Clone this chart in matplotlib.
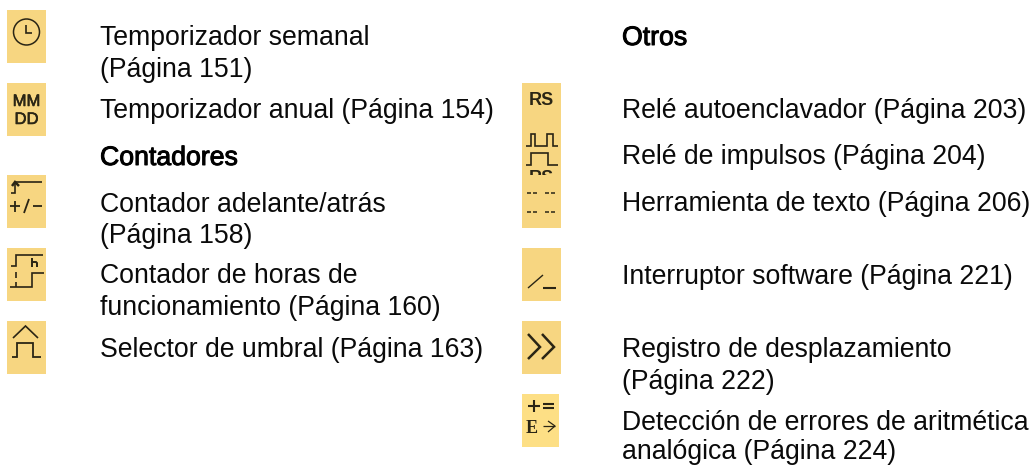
import matplotlib
matplotlib.use("Agg")
import matplotlib.pyplot as plt
from matplotlib.patches import Rectangle
import matplotlib.patheffects as pe

W, H = 1034, 465
plt.rcParams['font.family'] = ['Liberation Sans', 'DejaVu Sans']

left_labels = ["Temporizador semanal", "(Página 151)", "Temporizador anual (Página 154)",
               "Contador adelante/atrás", "(Página 158)", "Contador de horas de",
               "funcionamiento (Página 160)", "Selector de umbral (Página 163)"]
left_rows = [45, 77, 118, 212, 243, 283, 315, 357]
right_labels = ["Relé autoenclavador (Página 203)", "Relé de impulsos (Página 204)",
                "Herramienta de texto (Página 206)", "Interruptor software (Página 221)",
                "Registro de desplazamiento", "(Página 222)",
                "Detección de errores de aritmética", "analógica (Página 224)"]
right_rows = [118, 164, 211, 284, 357, 389, 430, 459]
headers = [("Contadores", 100, 165), ("Otros", 622, 45)]
icon_boxes = [(7, 10, 39, 53), (7, 83, 39, 53), (7, 175, 39, 53), (7, 248, 39, 53), (7, 321, 39, 53),
              (522, 83, 39, 145), (522, 248, 39, 53), (522, 321, 39, 53), (522, 394, 37, 53)]
icon_colors = ["#f7d681"] * 8 + ["#fddf85"]

fig = plt.figure(figsize=(W / 100, H / 100), dpi=100)
ax = fig.add_axes([0, 0, 1, 1])
ax.set_xlim(0, W); ax.set_ylim(H, 0); ax.axis("off")

FS = 19.2
COL = "#0a0a0a"
ICON = "#2a2515"
for (x, y, w, h), c in zip(icon_boxes, icon_colors):
    ax.add_patch(Rectangle((x, y), w, h, fc=c, ec="none"))

for s, y in zip(left_labels, left_rows):
    ax.text(100, y, s, fontsize=FS, color=COL, va="baseline")
for s, y in zip(right_labels, right_rows):
    ax.text(622, y, s, fontsize=FS, color=COL, va="baseline")
for s, x, y in headers:
    t = ax.text(x, y, s, fontsize=FS, color="black", va="baseline")
    t.set_path_effects([pe.withStroke(linewidth=0.7, foreground="black")])

def L(xs, ys, lw=1.2):
    ax.plot(xs, ys, color=ICON, lw=lw, solid_capstyle="butt", solid_joinstyle="miter")

# clock
ax.add_patch(plt.Circle((26.5, 32), 13, fc="none", ec=ICON, lw=1.1))
L([26.3, 26.3, 32], [25, 33.5, 33.5])
# MM DD
for s, y in (("MM", 106), ("DD", 124)):
    t = ax.text(26.5, y, s, fontsize=12, color=ICON, ha="center", va="baseline")
    t.set_path_effects([pe.withStroke(linewidth=0.4, foreground=ICON)])
# up/down counter
L([11, 15, 15, 42], [193, 193, 182, 182])
L([12, 15, 19], [186, 182, 186], 1.8)
L([10, 20], [206, 206], 1.3); L([15, 15], [201, 212], 1.3)
L([24, 29], [213, 199], 1.3)
L([33, 42], [206, 206], 1.3)
# hours counter
L([11, 16, 16, 43], [266, 266, 255, 255])
L([10, 32, 32, 44], [287, 287, 273, 273])
L([16, 16], [272, 278]); L([16, 16], [282, 287])
L([32, 32], [258, 267], 1.4); L([32, 36, 37, 37], [262, 262, 263, 267], 1.4)
# threshold
L([13, 25.5, 38], [338, 326, 338])
L([12, 17, 17, 33, 33, 41], [357, 357, 343, 343, 357, 357], 1.3)
# RS
ax.text(541, 105, "RS", fontsize=13, color=ICON, ha="center", va="baseline", weight="bold")
# pulse relay
L([526, 531, 531, 535, 535, 547, 547, 553, 553, 558], [146, 146, 134, 134, 146, 146, 134, 134, 146, 146], 1.2)
L([526, 531, 531, 548, 548, 558], [165, 165, 153, 153, 165, 165], 1.2)
t = ax.text(541, 183, "RS", fontsize=13, color=ICON, ha="center", va="baseline", weight="bold")
t.set_clip_on(True)
t.set_clip_path(Rectangle((522, 167), 39, 8, transform=ax.transData))
# text tool
for y in (193, 212):
    for x0 in (527, 533, 545, 551):
        L([x0, x0 + 4], [y, y], 1.1)
# software switch
L([528, 543], [288, 275], 1.0); L([543, 556], [288, 288], 1.5)
# shift register
L([528, 540, 528], [334, 347, 359], 1.8); L([542, 554, 542], [334, 347, 359], 1.8)
# analog error
L([528, 540], [406, 406], 1.5); L([534, 534], [400, 412], 1.5)
L([543, 554], [404, 404], 1.5); L([543, 554], [408, 408], 1.5)
ax.text(532, 433, "E", fontsize=13, color=ICON, ha="center", va="baseline",
        family="Liberation Serif", weight="bold")
L([543, 555], [426, 426], 0.9); L([548, 555, 548], [421, 426, 432], 0.9)

fig.savefig("out.png", dpi=100)
